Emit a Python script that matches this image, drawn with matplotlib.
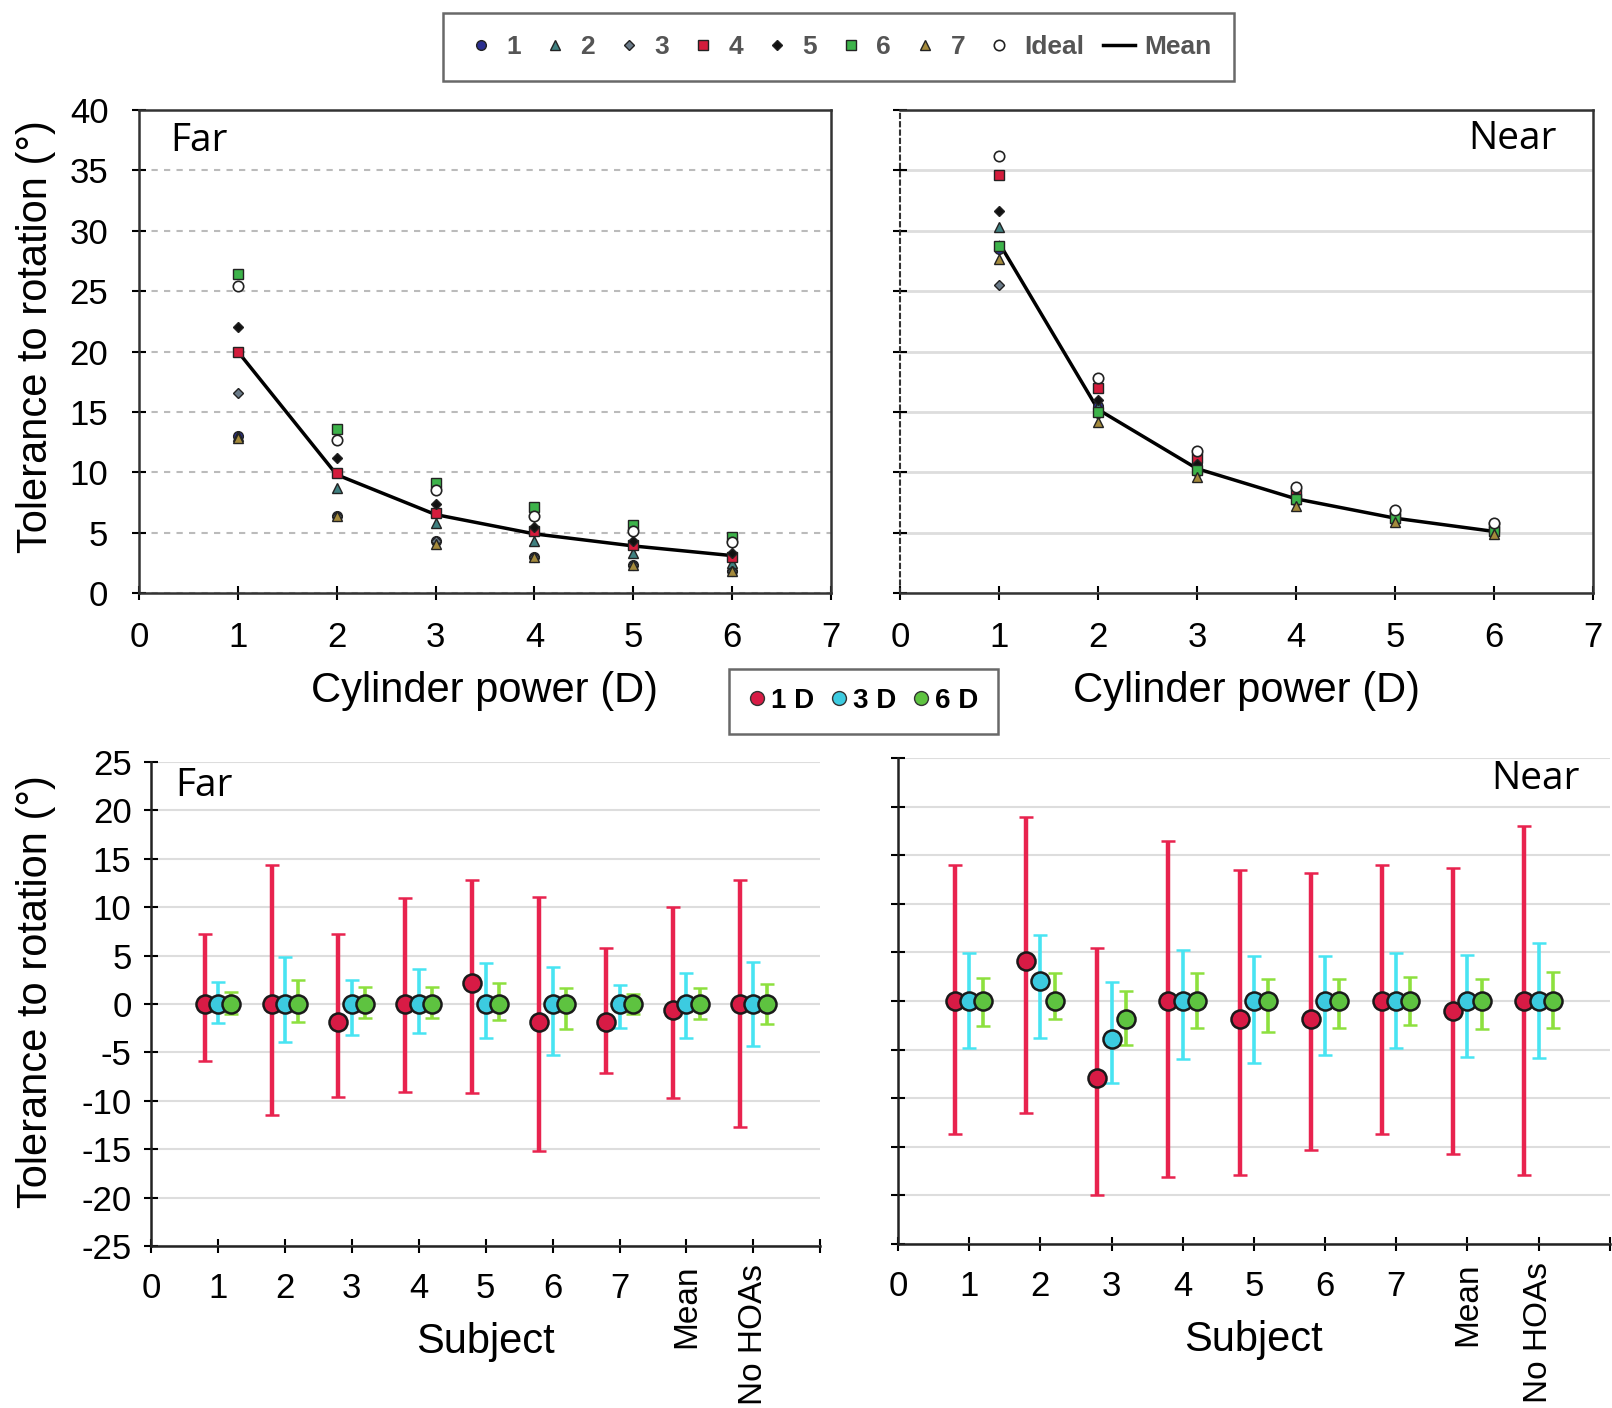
import matplotlib
matplotlib.use("Agg")
import matplotlib.pyplot as plt
import matplotlib.transforms as mtransforms
from matplotlib.lines import Line2D

plt.rcParams['font.family'] = ['Liberation Sans', 'DejaVu Sans']
plt.rcParams['axes.unicode_minus'] = False

# Cylinder power (D) - top panels
cyl = [1, 2, 3, 4, 5, 6]

far_s1 = [13.0, 6.4, 4.3, 3.0, 2.3, 1.8]
far_s2 = [13.0, 8.7, 5.8, 4.3, 3.3, 2.5]
far_s3 = [16.6, 6.4, 4.3, 3.0, 2.3, 1.8]
far_s4 = [20.0, 9.9, 6.6, 5.1, 4.0, 3.0]
far_s5 = [22.0, 11.2, 7.4, 5.5, 4.3, 3.3]
far_s6 = [26.4, 13.6, 9.1, 7.1, 5.6, 4.6]
far_s7 = [12.8, 6.4, 4.1, 3.0, 2.3, 1.8]
far_ideal = [25.4, 12.7, 8.5, 6.4, 5.1, 4.2]
far_mean = [20.0, 9.8, 6.5, 4.9, 3.9, 3.1]

near_s1 = [28.5, 15.5, 10.3, 7.8, 6.1, 5.0]
near_s2 = [30.3, 15.5, 10.4, 7.8, 6.2, 5.1]
near_s3 = [25.5, 14.8, 9.9, 7.5, 6.0, 5.0]
near_s4 = [34.6, 17.0, 11.2, 8.3, 6.6, 5.5]
near_s5 = [31.6, 16.0, 10.7, 8.0, 6.4, 5.3]
near_s6 = [28.7, 15.0, 10.2, 7.8, 6.2, 5.1]
near_s7 = [27.7, 14.2, 9.6, 7.2, 5.9, 4.9]
near_ideal = [36.2, 17.8, 11.8, 8.8, 6.9, 5.8]
near_mean = [29.0, 15.2, 10.3, 7.8, 6.2, 5.1]

# Subjects - bottom panels
subj_labels = ['0', '1', '2', '3', '4', '5', '6', '7', 'Mean', 'No HOAs', '']
subj_pos = [1, 2, 3, 4, 5, 6, 7, 8, 9]

far_1d = [0, 0, -1.9, 0, 2.2, -1.9, -1.9, -0.6, 0]
far_1d_hi = [7.2, 14.4, 7.2, 11.0, 12.8, 11.1, 5.8, 10.0, 12.8]
far_1d_lo = [-5.9, -11.5, -9.6, -9.1, -9.2, -15.2, -7.1, -9.7, -12.7]
far_3d = [0, 0, 0, 0, 0, 0, 0, 0, 0]
far_3d_hi = [2.3, 4.9, 2.5, 3.6, 4.2, 3.8, 2.0, 3.2, 4.3]
far_3d_lo = [-2.0, -3.9, -3.2, -3.0, -3.5, -5.3, -2.5, -3.5, -4.3]
far_6d = [0, 0, 0, 0, 0, 0, 0, 0, 0]
far_6d_hi = [1.2, 2.5, 1.8, 1.8, 2.2, 1.6, 1.0, 1.6, 2.1]
far_6d_lo = [-1.0, -1.9, -1.4, -1.5, -1.7, -2.6, -1.0, -1.6, -2.1]

near_1d = [0, 4.1, -7.9, 0, -1.9, -1.9, 0, -1.0, 0]
near_1d_hi = [14.0, 18.9, 5.4, 16.5, 13.5, 13.2, 14.0, 13.7, 18.0]
near_1d_lo = [-13.7, -11.5, -20.0, -18.1, -17.9, -15.3, -13.7, -15.7, -17.9]
near_3d = [0, 2.1, -3.9, 0, 0, 0, 0, 0, 0]
near_3d_hi = [4.9, 6.8, 2.0, 5.2, 4.6, 4.6, 4.9, 4.7, 6.0]
near_3d_lo = [-4.8, -3.8, -8.4, -6.0, -6.4, -5.6, -4.8, -5.8, -5.9]
near_6d = [0, 0, -1.9, 0, 0, 0, 0, 0, 0]
near_6d_hi = [2.4, 2.9, 1.0, 2.9, 2.3, 2.3, 2.5, 2.3, 3.0]
near_6d_lo = [-2.6, -1.9, -4.5, -2.8, -3.2, -2.8, -2.5, -2.9, -2.8]

# marker styles per subject
subj_styles = [
    ('1', 'o', '#2b2f8f', 7),
    ('2', '^', '#3f8080', 7),
    ('3', 'D', '#6a7a88', 5.5),
    ('4', 's', '#d41c3c', 7.5),
    ('5', 'D', '#111111', 5.5),
    ('6', 's', '#3db34a', 7.5),
    ('7', '^', '#a48a3c', 7),
]

fig = plt.figure(figsize=(16.12, 14.08), dpi=100)

ax1 = fig.add_axes([0.0862, 0.5788, 0.4293, 0.3431])
ax2 = fig.add_axes([0.5583, 0.5788, 0.4300, 0.3431])
ax3 = fig.add_axes([0.0937, 0.1151, 0.4152, 0.3437])
ax4 = fig.add_axes([0.5571, 0.1165, 0.4415, 0.3452])


def draw_top(ax, series, ideal, mean, dashed_grid):
    ax.plot(cyl, mean, color='black', lw=2.5, zorder=2)
    for (lab, mk, col, ms), vals in zip(subj_styles, series):
        ax.plot(cyl, vals, ls='none', marker=mk, ms=ms, mfc=col,
                mec='#222222', mew=1.0, zorder=3)
    ax.plot(cyl, ideal, ls='none', marker='o', ms=7.5, mfc='white',
            mec='#222222', mew=1.2, zorder=4)
    ax.set_xlim(0, 7)
    ax.set_ylim(0, 40)
    ax.set_xticks(range(8))
    ax.set_yticks(range(0, 41, 5))
    if dashed_grid:
        ax.yaxis.grid(True, ls=(0, (3, 3)), color='#bbbbbb', lw=1.5)
    else:
        ax.yaxis.grid(True, ls='-', color='#dddddd', lw=2)
    ax.set_axisbelow(True)
    ax.tick_params(axis='both', direction='inout', length=10, width=1.5,
                   labelsize=25)
    ax.tick_params(axis='x', pad=15)
    ax.tick_params(axis='y', pad=17)
    for s in ax.spines.values():
        s.set_linewidth(1.8)
        s.set_color('#333333')
    ax.set_xlabel('Cylinder power (D)', fontsize=30)
    ax.xaxis.label.set_va('center')
    ax.xaxis.set_label_coords(0.5, -0.203)


draw_top(ax1, [far_s1, far_s2, far_s3, far_s4, far_s5, far_s6, far_s7],
         far_ideal, far_mean, True)
draw_top(ax2, [near_s1, near_s2, near_s3, near_s4, near_s5, near_s6, near_s7],
         near_ideal, near_mean, False)
ax1.set_ylabel('Tolerance to rotation (°)', fontsize=30)
ax1.yaxis.label.set_va('center')
ax1.yaxis.set_label_coords(-0.149, 0.53)
ax2.tick_params(axis='y', labelleft=False)
ax2.spines['left'].set_linestyle((0, (2, 2)))
ax2.spines['left'].set_linewidth(1.5)

ax1.text(0.045, 0.936, 'Far', transform=ax1.transAxes, fontsize=28,
         family='Open Sans', va='center', ha='left')
ax2.text(0.948, 0.94, 'Near', transform=ax2.transAxes, fontsize=28,
         family='Open Sans', va='center', ha='right')

red_f, red_e = '#d81b45', '#e8234e'
cya_f, cya_e = '#3ccbe0', '#48e4f2'
grn_f, grn_e = '#5ec340', '#8de03e'


def draw_bottom(ax, d1, h1, l1, d3, h3, l3, d6, h6, l6):
    for off, vals, hi, lo, fc, ec, lw in [
            (-0.2, d1, h1, l1, red_f, red_e, 3.2),
            (0.0, d3, h3, l3, cya_f, cya_e, 2.6),
            (0.2, d6, h6, l6, grn_f, grn_e, 2.6)]:
        xs = [p + off for p in subj_pos]
        err = [[v - b for v, b in zip(vals, lo)], [t - v for v, t in zip(vals, hi)]]
        ax.errorbar(xs, vals, yerr=err, fmt='o', ms=13, mfc=fc, mec='#1a1a1a',
                    mew=1.8, ecolor=ec, elinewidth=lw, capsize=5, capthick=2.5,
                    zorder=3)
    ax.set_xlim(0, 10)
    ax.set_ylim(-25, 25)
    ax.set_xticks(range(11))
    ax.set_xticklabels(subj_labels)
    ax.set_yticks(range(-25, 26, 5))
    ax.yaxis.grid(True, ls='-', color='#dddddd', lw=1.5)
    ax.set_axisbelow(True)
    ax.spines['top'].set_visible(False)
    ax.spines['right'].set_visible(False)
    for s in ('left', 'bottom'):
        ax.spines[s].set_linewidth(1.8)
        ax.spines[s].set_color('#222222')
    ax.tick_params(axis='both', direction='inout', length=10, width=1.5,
                   labelsize=25)
    ax.tick_params(axis='x', pad=14)
    ax.tick_params(axis='y', pad=9)
    # rotated word labels, nudged up a little
    up = mtransforms.ScaledTranslation(0, 8 / 100, fig.dpi_scale_trans)
    for i, t in enumerate(ax.get_xticklabels()):
        if subj_labels[i] in ('Mean', 'No HOAs'):
            t.set_rotation(90)
            t.set_fontsize(24)
            t.set_transform(t.get_transform() + up)
    ax.set_xlabel('Subject', fontsize=30)
    ax.xaxis.label.set_va('center')
    ax.xaxis.set_label_coords(0.5, -0.198)


draw_bottom(ax3, far_1d, far_1d_hi, far_1d_lo, far_3d, far_3d_hi, far_3d_lo,
            far_6d, far_6d_hi, far_6d_lo)
draw_bottom(ax4, near_1d, near_1d_hi, near_1d_lo, near_3d, near_3d_hi, near_3d_lo,
            near_6d, near_6d_hi, near_6d_lo)
ax3.set_ylabel('Tolerance to rotation (°)', fontsize=30)
ax3.yaxis.label.set_va('center')
ax3.yaxis.set_label_coords(-0.172, 0.525)
ax4.tick_params(axis='y', labelleft=False)
ax3.text(0.036, 0.95, 'Far', transform=ax3.transAxes, fontsize=28,
         family='Open Sans', va='center', ha='left')
ax4.text(0.958, 0.957, 'Near', transform=ax4.transAxes, fontsize=28,
         family='Open Sans', va='center', ha='right')

# top legend
handles = []
for lab, mk, col, ms in subj_styles:
    handles.append(Line2D([], [], ls='none', marker=mk, ms=ms, mfc=col,
                          mec='#222222', mew=1.0, label=lab))
handles.append(Line2D([], [], ls='none', marker='o', ms=7.5, mfc='white',
                      mec='#222222', mew=1.2, label='Ideal'))
handles.append(Line2D([], [], color='black', lw=2.5, label='Mean'))
leg1 = fig.legend(handles=handles, loc='center', bbox_to_anchor=(0.520, 0.9666),
                  ncol=9, frameon=True, fancybox=False, edgecolor='#444444',
                  handlelength=1.2, handletextpad=0.35, columnspacing=0.7,
                  borderpad=0.85, prop={'family': 'Liberation Sans',
                                        'weight': 'bold', 'size': 19})
leg1.get_frame().set_linewidth(1.8)
for t in leg1.get_texts():
    t.set_color('#555555')

# middle legend
h2 = [Line2D([], [], ls='none', marker='o', ms=10, mfc=red_f, mec='#333333', label='1 D'),
      Line2D([], [], ls='none', marker='o', ms=10, mfc=cya_f, mec='#333333', label='3 D'),
      Line2D([], [], ls='none', marker='o', ms=10, mfc=grn_f, mec='#333333', label='6 D')]
leg2 = fig.legend(handles=h2, loc='center', bbox_to_anchor=(0.5357, 0.502),
                  ncol=3, frameon=True, fancybox=False, edgecolor='#444444',
                  handlelength=0.6, handletextpad=0.2, columnspacing=0.6,
                  borderpad=0.7, prop={'weight': 'bold', 'size': 20})
leg2.get_frame().set_linewidth(1.8)

fig.savefig('out.png', dpi=100)
